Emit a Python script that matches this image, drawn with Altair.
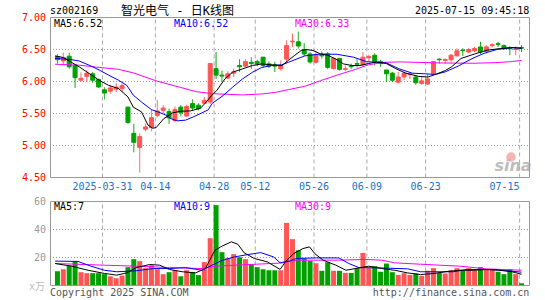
import altair as alt
import pandas as pd

# ---------------- data ----------------
opens = [6.39, 6.32, 6.395, 6.255, 6.02, 6.08, 6.12, 6.03, 5.87, 5.85,
         5.88, 5.89, 5.60, 5.19, 4.97, 5.255, 5.28, 5.47, 5.55, 5.53,
         5.39, 5.60, 5.46, 5.655, 5.63, 5.66, 5.68, 6.20, 6.10, 6.055,
         6.13, 6.25, 6.24, 6.30, 6.31, 6.38, 6.275, 6.26, 6.20, 6.35,
         6.62, 6.62, 6.50, 6.43, 6.30, 6.42, 6.43, 6.20, 6.36, 6.19,
         6.24, 6.28, 6.26, 6.37, 6.41, 6.31, 6.18, 6.13, 5.99, 6.07,
         6.11, 6.07, 5.97, 5.96, 6.12, 6.35, 6.33, 6.34, 6.40, 6.49,
         6.46, 6.48, 6.54, 6.47, 6.56, 6.59, 6.56, 6.52, 6.50, 6.53]
highs = [6.43, 6.45, 6.45, 6.26, 6.14, 6.175, 6.15, 6.045, 5.91, 5.945,
         5.975, 5.97, 5.60, 5.34, 5.19, 5.34, 5.56, 5.71, 5.63, 5.575,
         5.61, 5.63, 5.64, 5.72, 5.66, 5.76, 6.29, 6.46, 6.17, 6.16,
         6.20, 6.35, 6.345, 6.38, 6.34, 6.38, 6.31, 6.31, 6.33, 6.64,
         6.75, 6.78, 6.60, 6.46, 6.47, 6.47, 6.46, 6.37, 6.37, 6.25,
         6.28, 6.35, 6.46, 6.42, 6.44, 6.34, 6.18, 6.15, 6.15, 6.15,
         6.15, 6.10, 6.07, 6.12, 6.31, 6.36, 6.36, 6.43, 6.52, 6.52,
         6.52, 6.54, 6.62, 6.57, 6.60, 6.62, 6.58, 6.55, 6.55, 6.57]
lows = [6.28, 6.27, 6.20, 5.90, 6.00, 5.99, 5.98, 5.90, 5.72, 5.81,
        5.835, 5.835, 5.34, 4.895, 4.58, 5.22, 5.22, 5.44, 5.51, 5.34,
        5.365, 5.455, 5.45, 5.55, 5.55, 5.65, 5.65, 6.04, 6.00, 6.04,
        6.07, 6.15, 6.22, 6.20, 6.24, 6.22, 6.21, 6.15, 6.17, 6.30,
        6.54, 6.515, 6.40, 6.28, 6.28, 6.36, 6.20, 6.19, 6.17, 6.16,
        6.20, 6.22, 6.25, 6.31, 6.25, 6.23, 5.99, 5.99, 5.97, 6.02,
        6.04, 5.95, 5.95, 5.95, 6.10, 6.28, 6.28, 6.30, 6.39, 6.40,
        6.44, 6.46, 6.43, 6.44, 6.53, 6.54, 6.50, 6.41, 6.41, 6.46]
closes = [6.34, 6.375, 6.23, 6.06, 6.05, 6.13, 6.02, 5.915, 5.82, 5.90,
          5.91, 5.935, 5.36, 5.05, 5.14, 5.29, 5.435, 5.54, 5.585, 5.43,
          5.56, 5.51, 5.61, 5.585, 5.575, 5.705, 6.28, 6.10, 6.085, 6.12,
          6.15, 6.23, 6.31, 6.28, 6.28, 6.25, 6.24, 6.24, 6.25, 6.56,
          6.63, 6.555, 6.43, 6.305, 6.42, 6.40, 6.22, 6.36, 6.19, 6.20,
          6.23, 6.27, 6.38, 6.39, 6.31, 6.28, 6.12, 6.02, 6.07, 6.13,
          6.12, 5.98, 6.01, 6.04, 6.31, 6.34, 6.345, 6.41, 6.48, 6.48,
          6.50, 6.515, 6.46, 6.54, 6.575, 6.58, 6.51, 6.51, 6.51, 6.52]
volumes = [10.2, 11.6, 14.3, 17.4, 9.5, 8.8, 8.8, 8.8, 8.1, 6.6,
           5.2, 7.1, 13.1, 18.8, 17.4, 12.4, 14.5, 11.6, 8.1, 9.5,
           10.9, 6.6, 10.9, 9.5, 7.4, 16.7, 33.8, 57.4, 23.8, 19.5,
           22.4, 20.2, 18.8, 15.2, 13.1, 11.6, 10.9, 10.9, 10.9, 44.7,
           33.1, 25.2, 19.3, 17.6, 15.9, 10.5, 16.6, 10.5, 10.5, 9.0,
           9.0, 12.4, 23.3, 12.4, 13.8, 9.8, 15.7, 9.5, 7.6, 8.8,
           7.6, 8.6, 6.9, 10.5, 12.4, 9.0, 8.6, 10.9, 12.4, 10.9,
           12.4, 10.9, 13.1, 11.6, 11.6, 9.8, 8.1, 11.6, 8.1, 1.6]

tick_idx = [8, 17, 27, 34, 44, 53, 63, 79]
tick_lbl = ["2025-03-31", "04-14", "04-28", "05-12", "05-26", "06-09", "06-23", "07-15"]
price_labels = [4.5, 5.0, 5.5, 6.0, 6.5, 7.0]
price_grid = [5.0, 5.5, 6.0, 6.5]
vol_labels = [20, 40, 60]
vol_grid = [20, 40]

# moving-average lines (candle index, value)
ma5_i = [-0.4, 1, 2, 3.7, 5.4, 7.1, 8.7, 10.4, 12, 12.9, 14.3, 15.4, 16.2, 16.8, 18.1, 19.6, 21, 22.6, 24.3, 25.1,
         26.3, 27.1, 28.5, 29.8, 31.5, 33.2, 34.8, 36.5, 38.2, 39.3, 40.4, 41.5, 42.3, 43.5, 44.8, 46, 47.3, 48.7, 50.1, 51.5,
         52.9, 54.3, 56, 57.6, 59.3, 61.5, 63.1, 64.6, 66, 67.1, 68.7, 71, 73.2, 75.4, 77.6, 79]
ma5_v = [6.40, 6.375, 6.32, 6.23, 6.125, 6.02, 5.94, 5.89, 5.76, 5.60, 5.526, 5.32, 5.27, 5.28, 5.42, 5.51, 5.536, 5.54, 5.58, 5.656,
         5.787, 5.857, 6.04, 6.145, 6.197, 6.25, 6.275, 6.26, 6.25, 6.33, 6.41, 6.485, 6.50, 6.485, 6.43, 6.41, 6.355, 6.275, 6.25, 6.25,
         6.28, 6.306, 6.28, 6.20, 6.13, 6.08, 6.07, 6.12, 6.17, 6.23, 6.36, 6.43, 6.49, 6.515, 6.53, 6.52]
ma10_i = [-0.4, 2.1, 3.7, 5.4, 7.1, 8.7, 10.4, 11.8, 12.9, 14.3, 16, 17.1, 18.5, 19.3, 20.4, 21.8, 23.2, 24.6, 25.7, 26.3,
          28.2, 29.8, 31.5, 33.2, 34.8, 36.5, 38.2, 39.3, 42.1, 44.8, 47.6, 50.4, 52.6, 56, 58.1, 60.4, 62.6, 64.3, 66, 68.2,
          70.4, 72.6, 74.8, 77.1, 79]
ma10_v = [6.36, 6.345, 6.32, 6.255, 6.18, 6.10, 6.02, 5.94, 5.787, 5.68, 5.56, 5.526, 5.474, 5.42, 5.385, 5.396, 5.45, 5.51, 5.56, 5.656,
          5.78, 5.91, 6.04, 6.145, 6.22, 6.25, 6.26, 6.30, 6.40, 6.43, 6.425, 6.38, 6.31, 6.29, 6.20, 6.13, 6.12, 6.11, 6.15, 6.24,
          6.35, 6.44, 6.50, 6.53, 6.52]
ma30_i = [-0.4, 3.7, 7.1, 10.4, 12.9, 16.8, 21, 23.7, 26.3, 31.5, 34.8, 37.1, 39.3, 42.1, 44.8, 47.6, 50.4, 52.9, 55.5, 58.5,
          65.1, 70.7, 74.6, 77.1, 79]
ma30_v = [6.27, 6.255, 6.22, 6.19, 6.135, 6.01, 5.906, 5.84, 5.81, 5.79, 5.805, 5.83, 5.873, 5.925, 6.014, 6.10, 6.18, 6.26, 6.30, 6.306,
          6.29, 6.285, 6.295, 6.31, 6.33]
vma5_i = [-0.4, 2.4, 5.2, 8, 10.1, 11.8, 13.4, 15.7, 17.4, 19.1, 21.3, 23.5, 25.2, 26.8, 28, 29.6, 30.7, 31.8, 33.5, 35.7,
          37.9, 38.8, 40.2, 41.8, 42.9, 43.8, 45.2, 47.4, 49.1, 50.7, 53, 55.2, 57.4, 59.6, 61.8, 64.1, 66.3, 68.5, 70.7, 73,
          75.2, 77.4, 79]
vma5_v = [15.7, 13.8, 10.9, 8.6, 7.4, 9.0, 12.8, 15.0, 14.5, 11.4, 9.8, 9.0, 12.1, 25.2, 28.1, 31.2, 29.5, 23.3, 19.3, 16.9,
          11.5, 16.9, 22.8, 26.4, 27.6, 22.8, 18.1, 14.5, 10.9, 12.1, 13.8, 12.1, 10.9, 9.0, 7.8, 8.6, 10.0, 10.9, 10.9, 11.4,
          10.9, 9.8, 8.0]
vma10_i = [-0.4, 3.5, 5.7, 8, 10.1, 13.4, 16.3, 19.1, 21.8, 24.6, 26.3, 28, 30.1, 32.4, 34.6, 36.8, 37.9, 39.6, 40.7, 44.1,
           47.9, 49.6, 51.3, 54.6, 59.6, 61.8, 67.4, 69.6, 74.1, 77.4, 79]
vma10_v = [17.4, 17.2, 13.8, 10.9, 9.8, 10.5, 12.1, 12.1, 12.8, 10.9, 14.5, 17.9, 20.4, 22.1, 23.5, 20.4, 16.2, 17.6, 19.3, 19.7,
           19.7, 15.7, 12.8, 12.6, 11.9, 9.8, 9.8, 11.4, 11.4, 10.2, 9.5]
vma30_i = [-0.4, 8, 13.4, 19.1, 24.6, 26.8, 30.1, 37.9, 40.7, 47.4, 52.4, 55.2, 57.4, 61.8, 68.5, 73, 79]
vma30_v = [15.7, 14.5, 13.8, 12.8, 12.1, 13.8, 14.5, 16.0, 18.1, 18.1, 18.6, 18.1, 16.2, 15.2, 13.8, 11.9, 10.9]

# ---------------- styling / layout ----------------
RED = "#FF5555"
GREEN = "#00A000"
GRID = "#aaaaaa"
MONO = "DejaVu Sans Mono"
CJK = "DejaVu Sans Mono, Noto Sans CJK SC"
BORDER = "#999999"
W, H_P, H_V = 480, 161, 85          # plot areas; price panel origin at page (50, 17)
PX_PER_SLOT = 6.0
X0 = -2.5 / PX_PER_SLOT             # candle centres fall on pixel centres
P_PX = 64.0                         # px per 1.00 of price
V_PX = 1.4                          # px per 1 (万) of volume

x_dom = [X0, X0 + W / PX_PER_SLOT]
p_dom = [4.5 - 0.5 / P_PX, 4.5 - 0.5 / P_PX + H_P / P_PX]
v_dom = [-0.5 / V_PX, -0.5 / V_PX + H_V / V_PX]

df = pd.DataFrame({"i": list(range(len(closes))), "open": opens, "high": highs,
                   "low": lows, "close": closes, "vol": volumes})
df["dir"] = ["up" if c >= o else "down" for o, c in zip(opens, closes)]

xs = alt.Scale(domain=x_dom, nice=False, zero=False)
ys = alt.Scale(domain=p_dom, nice=False, zero=False)
vs = alt.Scale(domain=v_dom, nice=False, zero=False)
dir_scale = alt.Scale(domain=["up", "down", "grid"], range=[RED, GREEN, GRID])
dash_scale = alt.Scale(domain=["up", "down", "grid"], range=[[1, 0], [1, 0], [4, 3]])

# vertical grid lines sit one third of a slot left of the candle centre
grid_pos = [t - 1 / 3 for t in tick_idx]
ticks_df = pd.DataFrame({"pos": grid_pos, "lbl": tick_lbl})

# wick rows and vertical-grid rows share one rule layer (grid rows first, drawn underneath)
price_grid_rows = pd.DataFrame({"i": grid_pos, "low": price_labels[0], "high": price_labels[-1], "dir": "grid"})
rules_df = pd.concat([price_grid_rows, df[["i", "low", "high", "dir"]]], ignore_index=True)
vol_grid_rows = pd.DataFrame({"i": grid_pos, "low": 0, "high": vol_labels[-1], "dir": "grid"})


def text(s, x, y, color, align="left", size=10, font=MONO, **kw):
    return alt.Chart(pd.DataFrame({"t": [s]})).mark_text(
        align=align, baseline="middle", color=color, fontSize=size, font=font, **kw
    ).encode(x=alt.value(x), y=alt.value(y), text="t:N")


def line(idx, vals, color, scale):
    return alt.Chart(pd.DataFrame({"i": idx, "v": vals})).mark_line(
        color=color, strokeWidth=1, clip=True
    ).encode(x=alt.X("i:Q", scale=xs, axis=None), y=alt.Y("v:Q", scale=scale, axis=None))


def rules(data, scale):
    return alt.Chart(data).mark_rule(strokeWidth=1).encode(
        x=alt.X("i:Q", scale=xs, axis=None),
        y=alt.Y("low:Q", scale=scale, axis=None),
        y2="high:Q",
        color=alt.Color("dir:N", scale=dir_scale, legend=None),
        strokeDash=alt.StrokeDash("dir:N", scale=dash_scale, legend=None),
    )


def hgrid(levels, scale):
    return alt.Chart(pd.DataFrame({"p": levels})).mark_rule(
        color="#999999", strokeDash=[1, 2], strokeWidth=1
    ).encode(y=alt.Y("p:Q", scale=scale, axis=None), x=alt.value(0), x2=alt.value(W))


def ylabels(levels, scale, fmt, color):
    d = pd.DataFrame({"p": levels, "s": [format(v, fmt) for v in levels]})
    return alt.Chart(d).mark_text(
        align="right", baseline="middle", color=color, font=MONO, fontSize=10
    ).encode(x=alt.value(-4), y=alt.Y("p:Q", scale=scale, axis=None), text="s:N")


def frame(h):
    return alt.Chart(pd.DataFrame({"a": [0]})).mark_rect(
        fillOpacity=0, stroke=BORDER, strokeWidth=1
    ).encode(x=alt.value(0.5), x2=alt.value(W - 0.5), y=alt.value(0.5), y2=alt.value(h - 0.5))


# ---------------- price panel ----------------
bodies = alt.Chart(df).mark_bar(size=4, strokeWidth=1).encode(
    x=alt.X("i:Q", scale=xs, axis=None),
    y=alt.Y("open:Q", scale=ys, axis=None),
    y2="close:Q",
    color=alt.Color("dir:N", scale=dir_scale, legend=None),
    stroke=alt.Stroke("dir:N", scale=dir_scale, legend=None),
)

date_lbl = alt.Chart(ticks_df.iloc[:-1]).mark_text(
    align="center", baseline="middle", color="#1874CD", font=MONO, fontSize=10
).encode(x=alt.X("pos:Q", scale=xs, axis=None), y=alt.value(169.7), text="lbl:N")
date_lbl_last = alt.Chart(ticks_df.iloc[-1:]).mark_text(
    align="right", baseline="middle", color="#1874CD", font=MONO, fontSize=10
).encode(x=alt.X("pos:Q", scale=xs, axis=None), y=alt.value(169.7), text="lbl:N")

logo_eye = alt.Chart(pd.DataFrame({"a": [0]})).mark_circle(size=90, color="#F4A0A0", opacity=0.8).encode(
    x=alt.value(461), y=alt.value(140))
logo_txt = text("sina", 463, 149, "#bdbdbd", align="center", size=16, font="DejaVu Sans",
                fontStyle="italic", fontWeight="bold")

anchor = alt.Chart(pd.DataFrame({"a": [0]})).mark_rule(opacity=0).encode(
    x=alt.value(-50), y=alt.value(-17), y2=alt.value(0))

price = alt.layer(
    hgrid(price_grid, ys), ylabels(price_labels, ys, ".2f", "#FF0000"),
    logo_eye, logo_txt, rules(rules_df, ys), bodies,
    line(ma30_i, ma30_v, "#FF00FF", ys),
    line(ma10_i, ma10_v, "#0000FF", ys),
    line(ma5_i, ma5_v, "#000000", ys),
    date_lbl, date_lbl_last,
    text("sz002169", 0, -6, "#000000"),
    text("智光电气 - 日K线图", 127.5, -6, "#000000", align="center", size=12, font=CJK),
    text("2025-07-15 09:45:18", 479.3, -6, "#000000", align="right"),
    text("MA5:6.52", 4, 6.5, "#000000"),
    text("MA10:6.52", 124, 6.5, "#0000FF"),
    text("MA30:6.33", 245, 6.5, "#FF00FF"),
    frame(H_P),
    anchor,
).properties(width=W, height=H_P)

# ---------------- volume panel ----------------
vbars = alt.Chart(df).mark_bar(size=5).encode(
    x=alt.X("i:Q", scale=xs, axis=None),
    y=alt.Y("vol:Q", scale=vs, axis=None),
    y2=alt.value(H_V),
    color=alt.Color("dir:N", scale=dir_scale, legend=None),
)

volume = alt.layer(
    hgrid(vol_grid, vs), rules(vol_grid_rows, vs), ylabels(vol_labels, vs, "d", "#999999"), vbars,
    line(vma30_i, vma30_v, "#FF00FF", vs),
    line(vma10_i, vma10_v, "#0000FF", vs),
    line(vma5_i, vma5_v, "#000000", vs),
    text("MA5:7", 4, 5.5, "#000000"),
    text("MA10:9", 124, 5.5, "#0000FF"),
    text("MA30:9", 245, 5.5, "#FF00FF"),
    text("x万", -5, 86, "#bbbbbb", align="right", font=CJK),
    text("Copyright 2025 SINA.COM", 0, 91.5, "#555555"),
    text("http://finance.sina.com.cn", 479.3, 91.5, "#555555", align="right"),
    frame(H_V),
).properties(width=W, height=H_V)

chart = alt.vconcat(price, volume, spacing=23, bounds="flush").properties(
    padding=0, background="white"
).configure_view(strokeOpacity=0)

chart.save("out.html", embed_options={"renderer": "svg", "actions": False})
